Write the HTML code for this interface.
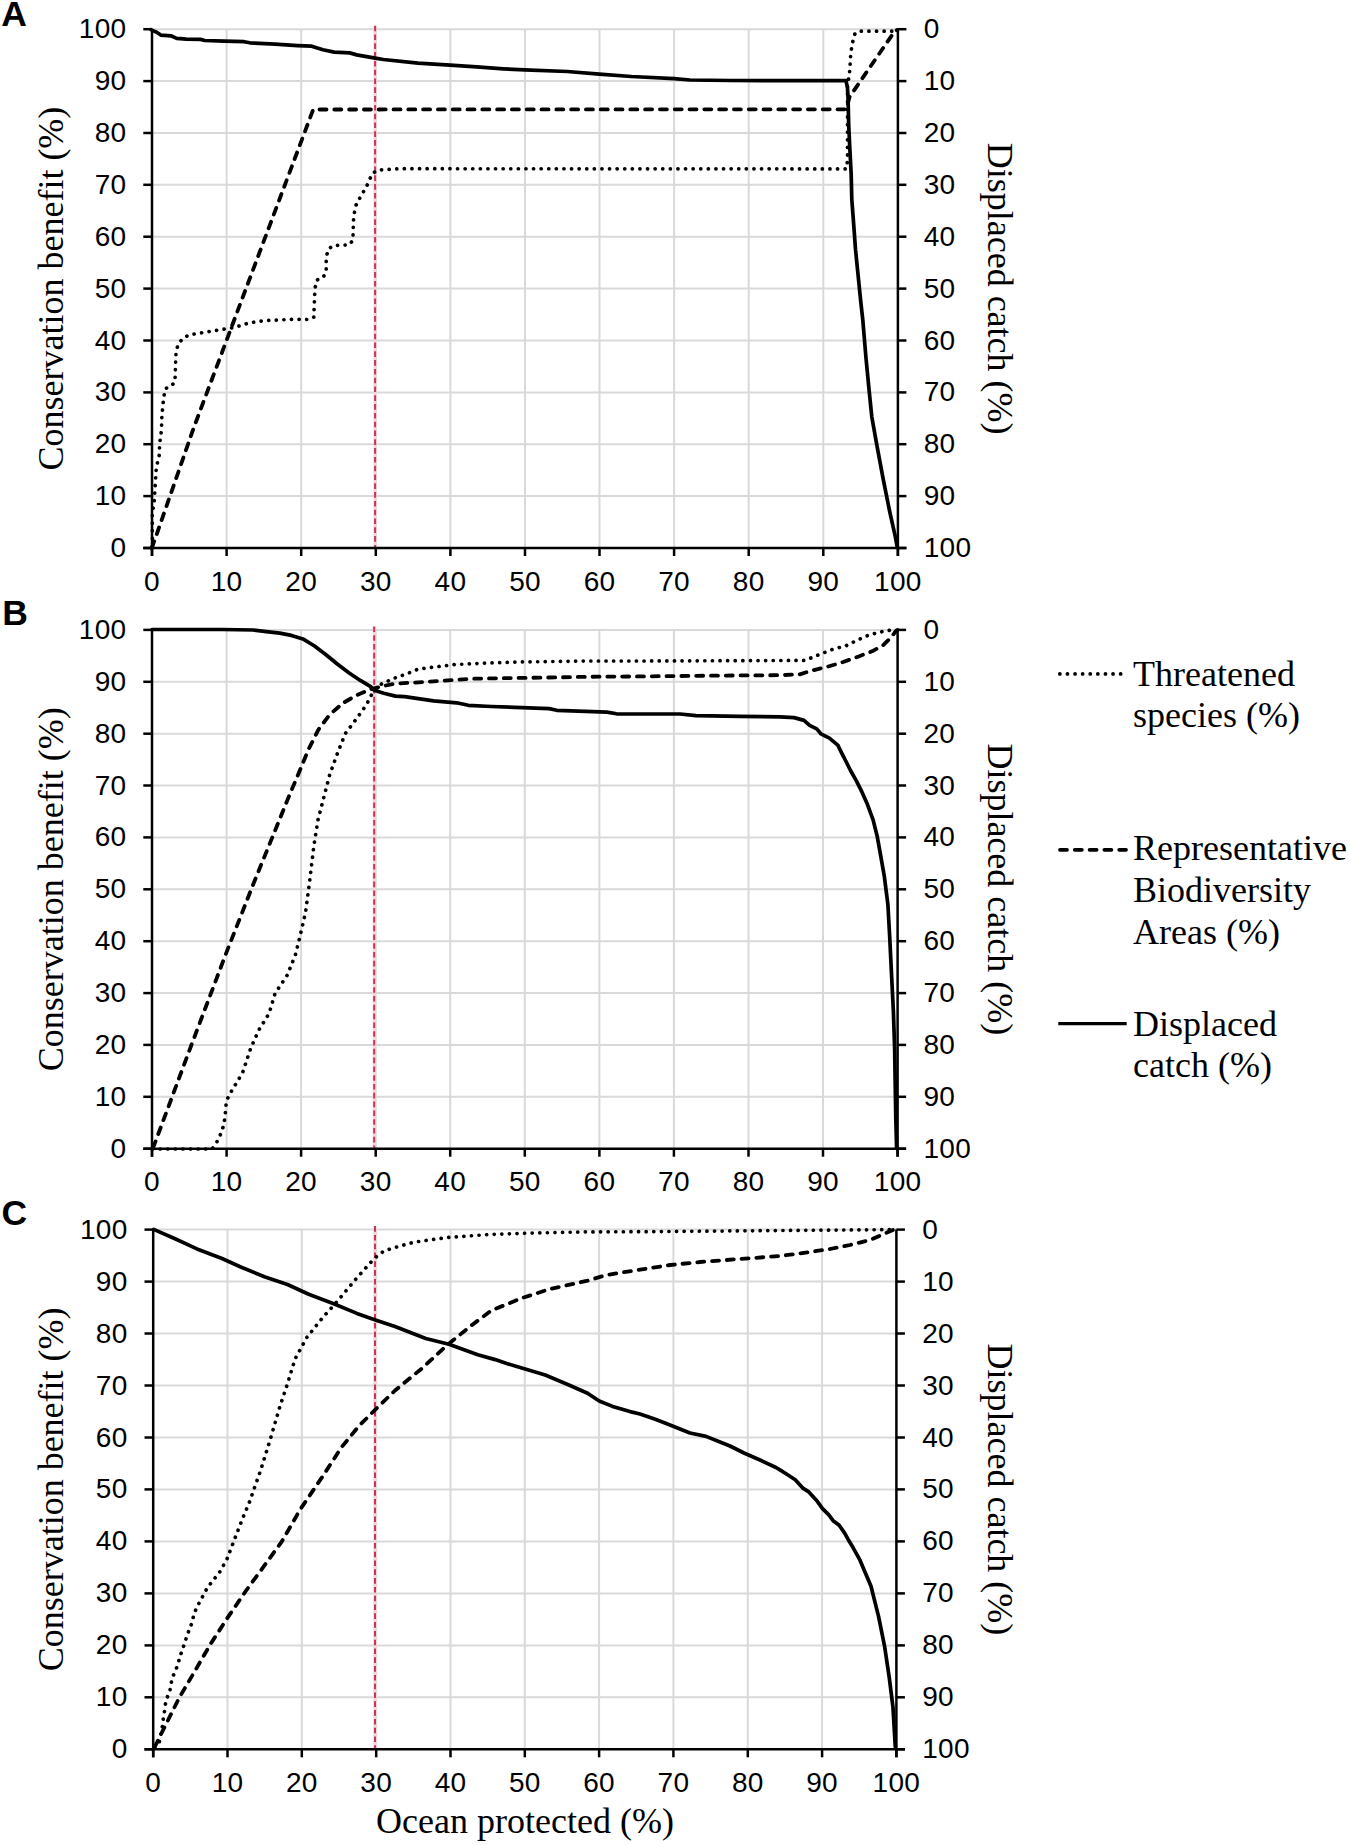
<!DOCTYPE html>
<html><head><meta charset="utf-8"><title>Ocean protection trade-offs</title>
<style>html,body{margin:0;padding:0;background:#fff;}svg{display:block;}</style>
</head><body>
<svg width="1350" height="1845" viewBox="0 0 1350 1845">
<rect width="1350" height="1845" fill="#fff"/>
<g stroke="#d9d9d9" stroke-width="2"><line x1="226.6" y1="29.2" x2="226.6" y2="548"/><line x1="301.2" y1="29.2" x2="301.2" y2="548"/><line x1="375.8" y1="29.2" x2="375.8" y2="548"/><line x1="450.4" y1="29.2" x2="450.4" y2="548"/><line x1="525" y1="29.2" x2="525" y2="548"/><line x1="599.5" y1="29.2" x2="599.5" y2="548"/><line x1="674.1" y1="29.2" x2="674.1" y2="548"/><line x1="748.7" y1="29.2" x2="748.7" y2="548"/><line x1="823.3" y1="29.2" x2="823.3" y2="548"/><line x1="152" y1="29.2" x2="897.9" y2="29.2"/><line x1="152" y1="81.1" x2="897.9" y2="81.1"/><line x1="152" y1="133" x2="897.9" y2="133"/><line x1="152" y1="184.8" x2="897.9" y2="184.8"/><line x1="152" y1="236.7" x2="897.9" y2="236.7"/><line x1="152" y1="288.6" x2="897.9" y2="288.6"/><line x1="152" y1="340.5" x2="897.9" y2="340.5"/><line x1="152" y1="392.4" x2="897.9" y2="392.4"/><line x1="152" y1="444.2" x2="897.9" y2="444.2"/><line x1="152" y1="496.1" x2="897.9" y2="496.1"/></g>
<line x1="375.1" y1="25.7" x2="375.1" y2="547" stroke="#f7d3da" stroke-width="3.2"/>
<line x1="375.1" y1="25.7" x2="375.1" y2="547" stroke="#c8345a" stroke-width="2" stroke-dasharray="5.6 3.2"/>
<polyline points="152.4,546 152.3,510 153.8,506.7 154.3,499.9 154.8,491.6 155.3,484.3 155.7,476.9 156.2,469.6 157.5,462.3 159.2,455.4 159.5,447.6 160.1,440.3 161.1,433 161.6,425.7 161.8,417.9 162.4,410.5 163.1,403.2 164,395.9 165.5,388.6 170.9,386.1 174.8,382.2 175.3,374.4 175.4,366.7 176.1,351.9 178.3,343.7 183.5,337.8 189.4,334.8 211.7,331.1 230.9,328.1 236.9,326.7 248.7,323 263.5,320.7 293.1,319.3 308.6,319.5 313.8,317.1 314.5,298.3 315.1,287.8 317.1,280 323,277.4 326.2,272.2 326.2,256.6 328.8,248.8 333.4,245.5 349,244.9 352.9,240.3 353.5,220.2 354.8,209.7 356.8,202.6 360.7,196.7 367.2,185 372.4,173.3 378.9,170 399.7,168.7 846.4,168.9 847.5,160 847.5,82.5 849.3,76.6 849.8,68.8 850.3,62 850.7,54.2 851.7,47.3 853.2,39.5 855.1,33.2 861,31.2 896.1,31.2" stroke="#000" stroke-width="3.7" fill="none" stroke-dasharray="0.1 7.5" stroke-linecap="round" stroke-linejoin="round"/>
<polyline points="151.8,548 157.5,532 193.8,427.6 313.2,109.5 846.4,109.3 849.5,97 894.5,31.5 897,30" stroke="#000" stroke-width="3.8" fill="none" stroke-dasharray="7 7.8" stroke-linecap="round" stroke-linejoin="round"/>
<polyline points="151,29.6 155.5,31.8 156.7,32.2 161.1,35.2 170.9,35.8 176.7,38.4 186.4,39.1 200.5,39.4 204.7,40.5 224.4,41.1 244.1,41.7 249.8,42.8 275.1,44.2 297.6,45.6 311.7,46.2 317.3,48.1 323,49.8 334.2,52.1 349.7,52.9 356.7,54.9 365.2,56.3 375.3,58.1 383.3,59.5 418,63.2 450,65.1 476.7,66.9 503.3,68.8 524.7,69.9 567.3,71.5 599.3,74.1 631.3,76.5 674,78.7 690,80 730,80.5 846,80.7 847.5,88 848.1,100 848.7,124.9 849.9,149.8 851.2,174.7 851.8,199.6 853.7,224.5 855.5,249.4 858,274.3 860.5,299.3 862.8,320 866,358.2 869.2,391.3 871.8,416.8 876.8,444.8 883.2,479.2 889.6,511.1 895.3,536.6 897.2,547" stroke="#000" stroke-width="3.7" fill="none" stroke-linejoin="round" stroke-linecap="round"/>
<g stroke="#000" stroke-width="2.5" stroke-linecap="butt"><line x1="152" y1="29.2" x2="152" y2="556"/><line x1="897.9" y1="29.2" x2="897.9" y2="556"/><line x1="143.3" y1="548" x2="906.4" y2="548"/><line x1="143.3" y1="29.2" x2="152" y2="29.2"/><line x1="897.9" y1="29.2" x2="906.4" y2="29.2"/><line x1="143.3" y1="81.1" x2="152" y2="81.1"/><line x1="897.9" y1="81.1" x2="906.4" y2="81.1"/><line x1="143.3" y1="133" x2="152" y2="133"/><line x1="897.9" y1="133" x2="906.4" y2="133"/><line x1="143.3" y1="184.8" x2="152" y2="184.8"/><line x1="897.9" y1="184.8" x2="906.4" y2="184.8"/><line x1="143.3" y1="236.7" x2="152" y2="236.7"/><line x1="897.9" y1="236.7" x2="906.4" y2="236.7"/><line x1="143.3" y1="288.6" x2="152" y2="288.6"/><line x1="897.9" y1="288.6" x2="906.4" y2="288.6"/><line x1="143.3" y1="340.5" x2="152" y2="340.5"/><line x1="897.9" y1="340.5" x2="906.4" y2="340.5"/><line x1="143.3" y1="392.4" x2="152" y2="392.4"/><line x1="897.9" y1="392.4" x2="906.4" y2="392.4"/><line x1="143.3" y1="444.2" x2="152" y2="444.2"/><line x1="897.9" y1="444.2" x2="906.4" y2="444.2"/><line x1="143.3" y1="496.1" x2="152" y2="496.1"/><line x1="897.9" y1="496.1" x2="906.4" y2="496.1"/><line x1="143.3" y1="548" x2="152" y2="548"/><line x1="897.9" y1="548" x2="906.4" y2="548"/><line x1="152" y1="548" x2="152" y2="556"/><line x1="226.6" y1="548" x2="226.6" y2="556"/><line x1="301.2" y1="548" x2="301.2" y2="556"/><line x1="375.8" y1="548" x2="375.8" y2="556"/><line x1="450.4" y1="548" x2="450.4" y2="556"/><line x1="525" y1="548" x2="525" y2="556"/><line x1="599.5" y1="548" x2="599.5" y2="556"/><line x1="674.1" y1="548" x2="674.1" y2="556"/><line x1="748.7" y1="548" x2="748.7" y2="556"/><line x1="823.3" y1="548" x2="823.3" y2="556"/><line x1="897.9" y1="548" x2="897.9" y2="556"/></g>
<g font-family='"Liberation Sans", sans-serif' font-size="28" letter-spacing="0.3" fill="#000"><text x="126.4" y="38.2" text-anchor="end">100</text><text x="923.7" y="38.2" text-anchor="start">0</text><text x="126.4" y="90.1" text-anchor="end">90</text><text x="923.7" y="90.1" text-anchor="start">10</text><text x="126.4" y="142" text-anchor="end">80</text><text x="923.7" y="142" text-anchor="start">20</text><text x="126.4" y="193.8" text-anchor="end">70</text><text x="923.7" y="193.8" text-anchor="start">30</text><text x="126.4" y="245.7" text-anchor="end">60</text><text x="923.7" y="245.7" text-anchor="start">40</text><text x="126.4" y="297.6" text-anchor="end">50</text><text x="923.7" y="297.6" text-anchor="start">50</text><text x="126.4" y="349.5" text-anchor="end">40</text><text x="923.7" y="349.5" text-anchor="start">60</text><text x="126.4" y="401.4" text-anchor="end">30</text><text x="923.7" y="401.4" text-anchor="start">70</text><text x="126.4" y="453.2" text-anchor="end">20</text><text x="923.7" y="453.2" text-anchor="start">80</text><text x="126.4" y="505.1" text-anchor="end">10</text><text x="923.7" y="505.1" text-anchor="start">90</text><text x="126.4" y="557" text-anchor="end">0</text><text x="923.7" y="557" text-anchor="start">100</text><text x="152" y="590.6" text-anchor="middle">0</text><text x="226.6" y="590.6" text-anchor="middle">10</text><text x="301.2" y="590.6" text-anchor="middle">20</text><text x="375.8" y="590.6" text-anchor="middle">30</text><text x="450.4" y="590.6" text-anchor="middle">40</text><text x="525" y="590.6" text-anchor="middle">50</text><text x="599.5" y="590.6" text-anchor="middle">60</text><text x="674.1" y="590.6" text-anchor="middle">70</text><text x="748.7" y="590.6" text-anchor="middle">80</text><text x="823.3" y="590.6" text-anchor="middle">90</text><text x="897.9" y="590.6" text-anchor="middle">100</text></g>
<text transform="translate(62.5,288.6) rotate(-90)" text-anchor="middle" font-family='"Liberation Serif", serif' font-size="36">Conservation benefit (%)</text>
<text transform="translate(987.8,288.6) rotate(90)" text-anchor="middle" font-family='"Liberation Serif", serif' font-size="36">Displaced catch (%)</text>
<g stroke="#d9d9d9" stroke-width="2"><line x1="226.6" y1="629.9" x2="226.6" y2="1148.7"/><line x1="301.1" y1="629.9" x2="301.1" y2="1148.7"/><line x1="375.7" y1="629.9" x2="375.7" y2="1148.7"/><line x1="450.2" y1="629.9" x2="450.2" y2="1148.7"/><line x1="524.8" y1="629.9" x2="524.8" y2="1148.7"/><line x1="599.4" y1="629.9" x2="599.4" y2="1148.7"/><line x1="673.9" y1="629.9" x2="673.9" y2="1148.7"/><line x1="748.5" y1="629.9" x2="748.5" y2="1148.7"/><line x1="823" y1="629.9" x2="823" y2="1148.7"/><line x1="152" y1="629.9" x2="897.6" y2="629.9"/><line x1="152" y1="681.8" x2="897.6" y2="681.8"/><line x1="152" y1="733.7" x2="897.6" y2="733.7"/><line x1="152" y1="785.5" x2="897.6" y2="785.5"/><line x1="152" y1="837.4" x2="897.6" y2="837.4"/><line x1="152" y1="889.3" x2="897.6" y2="889.3"/><line x1="152" y1="941.2" x2="897.6" y2="941.2"/><line x1="152" y1="993.1" x2="897.6" y2="993.1"/><line x1="152" y1="1044.9" x2="897.6" y2="1044.9"/><line x1="152" y1="1096.8" x2="897.6" y2="1096.8"/></g>
<line x1="374.2" y1="626.4" x2="374.2" y2="1147.7" stroke="#f7d3da" stroke-width="3.2"/>
<line x1="374.2" y1="626.4" x2="374.2" y2="1147.7" stroke="#c8345a" stroke-width="2" stroke-dasharray="5.6 3.2"/>
<polyline points="152.5,1149 212,1149 215.7,1144.1 219.1,1137.8 221.7,1131.5 223.9,1124.4 225.2,1115 226.3,1101.1 230.4,1093 242.6,1072.7 250.7,1048.3 258.8,1030 269,1013.7 275.1,993.4 287.3,975.1 295.4,954.8 299.5,938.5 305.6,912.1 309.6,881.6 313.7,847.1 317.8,820.7 324.1,796.2 329.9,774.1 337.6,752.9 345.3,733.6 356.9,718.2 366.5,704.7 372.3,693.2 381.9,683.6 395.4,677.8 406.6,673.9 418.1,669.1 433.5,667.2 452.8,664.7 481.7,663.3 520.2,662 587.6,661 640,661 805,660.4 818.2,655 832.2,649.5 846.2,645.7 857.1,640.2 869.5,634.8 882,631.7 894,629.5" stroke="#000" stroke-width="3.7" fill="none" stroke-dasharray="0.1 7.5" stroke-linecap="round" stroke-linejoin="round"/>
<polyline points="153.1,1147.9 191.7,1044.2 226.3,952.8 252.7,885.7 287.4,800.1 299.1,772.2 308.7,749 318.3,729.8 329.9,714.4 343.4,702.8 356.9,695.1 370.3,689.3 385.8,685.5 395,683.6 414.3,682.6 443.2,680.7 472,678.7 529.8,677.8 587.6,676.8 640,676.4 720,675.6 780,675.2 799.5,674.4 812,670.5 827.5,666.7 843.1,662 858.6,656.5 872.6,651.1 883.5,644.9 891.3,637.1 896,630.9 897.5,630" stroke="#000" stroke-width="3.8" fill="none" stroke-dasharray="7 7.8" stroke-linecap="round" stroke-linejoin="round"/>
<polyline points="152,629.5 222,629.5 252.9,630 268.3,631.9 279.8,633.1 291.4,635.4 302.9,638.9 314.5,646 326,654.7 337.6,664.3 349.2,673 360.7,680.7 370.3,686.4 374.2,690.3 383.8,693.2 395.4,696.1 404.6,696.7 433.5,700.9 456.6,702.8 468.2,705.3 491.3,706.5 549.1,708.6 556.8,710.3 606.9,712.1 616.5,713.8 655,714 680,714 696,715.6 740,716.4 780,716.9 794.1,717.6 804,720.4 809.6,725.4 816.7,728.9 820.9,733.8 829.4,738.1 837.8,745.1 842,753.6 846.3,762 850.5,770.5 856.1,780.4 861.8,791.7 867.4,804.3 873.1,819.9 877.3,836.8 880.1,852.3 884.3,876.3 887.9,904.5 889.6,935 891.6,975.8 893.4,1011.6 894.6,1047.4 895.2,1083.2 895.8,1119 896.6,1148" stroke="#000" stroke-width="3.7" fill="none" stroke-linejoin="round" stroke-linecap="round"/>
<g stroke="#000" stroke-width="2.5" stroke-linecap="butt"><line x1="152" y1="629.9" x2="152" y2="1156.7"/><line x1="897.6" y1="629.9" x2="897.6" y2="1156.7"/><line x1="143.3" y1="1148.7" x2="906.1" y2="1148.7"/><line x1="143.3" y1="629.9" x2="152" y2="629.9"/><line x1="897.6" y1="629.9" x2="906.1" y2="629.9"/><line x1="143.3" y1="681.8" x2="152" y2="681.8"/><line x1="897.6" y1="681.8" x2="906.1" y2="681.8"/><line x1="143.3" y1="733.7" x2="152" y2="733.7"/><line x1="897.6" y1="733.7" x2="906.1" y2="733.7"/><line x1="143.3" y1="785.5" x2="152" y2="785.5"/><line x1="897.6" y1="785.5" x2="906.1" y2="785.5"/><line x1="143.3" y1="837.4" x2="152" y2="837.4"/><line x1="897.6" y1="837.4" x2="906.1" y2="837.4"/><line x1="143.3" y1="889.3" x2="152" y2="889.3"/><line x1="897.6" y1="889.3" x2="906.1" y2="889.3"/><line x1="143.3" y1="941.2" x2="152" y2="941.2"/><line x1="897.6" y1="941.2" x2="906.1" y2="941.2"/><line x1="143.3" y1="993.1" x2="152" y2="993.1"/><line x1="897.6" y1="993.1" x2="906.1" y2="993.1"/><line x1="143.3" y1="1044.9" x2="152" y2="1044.9"/><line x1="897.6" y1="1044.9" x2="906.1" y2="1044.9"/><line x1="143.3" y1="1096.8" x2="152" y2="1096.8"/><line x1="897.6" y1="1096.8" x2="906.1" y2="1096.8"/><line x1="143.3" y1="1148.7" x2="152" y2="1148.7"/><line x1="897.6" y1="1148.7" x2="906.1" y2="1148.7"/><line x1="152" y1="1148.7" x2="152" y2="1156.7"/><line x1="226.6" y1="1148.7" x2="226.6" y2="1156.7"/><line x1="301.1" y1="1148.7" x2="301.1" y2="1156.7"/><line x1="375.7" y1="1148.7" x2="375.7" y2="1156.7"/><line x1="450.2" y1="1148.7" x2="450.2" y2="1156.7"/><line x1="524.8" y1="1148.7" x2="524.8" y2="1156.7"/><line x1="599.4" y1="1148.7" x2="599.4" y2="1156.7"/><line x1="673.9" y1="1148.7" x2="673.9" y2="1156.7"/><line x1="748.5" y1="1148.7" x2="748.5" y2="1156.7"/><line x1="823" y1="1148.7" x2="823" y2="1156.7"/><line x1="897.6" y1="1148.7" x2="897.6" y2="1156.7"/></g>
<g font-family='"Liberation Sans", sans-serif' font-size="28" letter-spacing="0.3" fill="#000"><text x="126.4" y="638.9" text-anchor="end">100</text><text x="923.4" y="638.9" text-anchor="start">0</text><text x="126.4" y="690.8" text-anchor="end">90</text><text x="923.4" y="690.8" text-anchor="start">10</text><text x="126.4" y="742.7" text-anchor="end">80</text><text x="923.4" y="742.7" text-anchor="start">20</text><text x="126.4" y="794.5" text-anchor="end">70</text><text x="923.4" y="794.5" text-anchor="start">30</text><text x="126.4" y="846.4" text-anchor="end">60</text><text x="923.4" y="846.4" text-anchor="start">40</text><text x="126.4" y="898.3" text-anchor="end">50</text><text x="923.4" y="898.3" text-anchor="start">50</text><text x="126.4" y="950.2" text-anchor="end">40</text><text x="923.4" y="950.2" text-anchor="start">60</text><text x="126.4" y="1002.1" text-anchor="end">30</text><text x="923.4" y="1002.1" text-anchor="start">70</text><text x="126.4" y="1053.9" text-anchor="end">20</text><text x="923.4" y="1053.9" text-anchor="start">80</text><text x="126.4" y="1105.8" text-anchor="end">10</text><text x="923.4" y="1105.8" text-anchor="start">90</text><text x="126.4" y="1157.7" text-anchor="end">0</text><text x="923.4" y="1157.7" text-anchor="start">100</text><text x="152" y="1191.3" text-anchor="middle">0</text><text x="226.6" y="1191.3" text-anchor="middle">10</text><text x="301.1" y="1191.3" text-anchor="middle">20</text><text x="375.7" y="1191.3" text-anchor="middle">30</text><text x="450.2" y="1191.3" text-anchor="middle">40</text><text x="524.8" y="1191.3" text-anchor="middle">50</text><text x="599.4" y="1191.3" text-anchor="middle">60</text><text x="673.9" y="1191.3" text-anchor="middle">70</text><text x="748.5" y="1191.3" text-anchor="middle">80</text><text x="823" y="1191.3" text-anchor="middle">90</text><text x="897.6" y="1191.3" text-anchor="middle">100</text></g>
<text transform="translate(62.5,889.3) rotate(-90)" text-anchor="middle" font-family='"Liberation Serif", serif' font-size="36">Conservation benefit (%)</text>
<text transform="translate(987.8,889.3) rotate(90)" text-anchor="middle" font-family='"Liberation Serif", serif' font-size="36">Displaced catch (%)</text>
<g stroke="#d9d9d9" stroke-width="2"><line x1="227.5" y1="1229.6" x2="227.5" y2="1749.3"/><line x1="301.8" y1="1229.6" x2="301.8" y2="1749.3"/><line x1="376.2" y1="1229.6" x2="376.2" y2="1749.3"/><line x1="450.5" y1="1229.6" x2="450.5" y2="1749.3"/><line x1="524.8" y1="1229.6" x2="524.8" y2="1749.3"/><line x1="599.1" y1="1229.6" x2="599.1" y2="1749.3"/><line x1="673.4" y1="1229.6" x2="673.4" y2="1749.3"/><line x1="747.8" y1="1229.6" x2="747.8" y2="1749.3"/><line x1="822.1" y1="1229.6" x2="822.1" y2="1749.3"/><line x1="153.2" y1="1229.6" x2="896.4" y2="1229.6"/><line x1="153.2" y1="1281.6" x2="896.4" y2="1281.6"/><line x1="153.2" y1="1333.5" x2="896.4" y2="1333.5"/><line x1="153.2" y1="1385.5" x2="896.4" y2="1385.5"/><line x1="153.2" y1="1437.5" x2="896.4" y2="1437.5"/><line x1="153.2" y1="1489.4" x2="896.4" y2="1489.4"/><line x1="153.2" y1="1541.4" x2="896.4" y2="1541.4"/><line x1="153.2" y1="1593.4" x2="896.4" y2="1593.4"/><line x1="153.2" y1="1645.4" x2="896.4" y2="1645.4"/><line x1="153.2" y1="1697.3" x2="896.4" y2="1697.3"/></g>
<line x1="375" y1="1226.1" x2="375" y2="1748.3" stroke="#f7d3da" stroke-width="3.2"/>
<line x1="375" y1="1226.1" x2="375" y2="1748.3" stroke="#c8345a" stroke-width="2" stroke-dasharray="5.6 3.2"/>
<polyline points="154.7,1747.5 159.3,1742 162.2,1727.3 163.1,1719.7 164.3,1712.6 165.2,1705 167,1697.9 169.8,1691.2 171,1684 172.7,1676.9 175.7,1670.2 178.2,1663.4 179.9,1656.7 182.4,1649.6 184.9,1642.4 187,1635.7 189.5,1629 192.1,1622.7 193.7,1615.1 196.3,1608.4 199.6,1602.1 207.6,1587.3 219.5,1572.4 227,1559 234.4,1539.6 241.9,1520.2 249.3,1502.4 260.6,1470.4 270.2,1439.6 279.8,1406.8 287.5,1383.7 295.2,1358.7 306.8,1337.5 322.2,1318.2 337.6,1300.9 356.9,1277.8 374.2,1258.5 383.8,1251 395,1247.5 414.3,1242.1 448.9,1237.3 491.3,1234.4 529.8,1233.1 587.6,1231.9 655,1231.6 892,1229.6" stroke="#000" stroke-width="3.7" fill="none" stroke-dasharray="0.1 7.5" stroke-linecap="round" stroke-linejoin="round"/>
<polyline points="154.7,1747 165.9,1724.4 179.3,1697.6 194.2,1672.3 210.6,1643.9 227,1618.6 246.3,1590.3 262.7,1567.9 282.1,1541.1 300,1509.8 322.2,1477 341.5,1447.3 358.8,1426.1 376.1,1408.8 395,1390.5 422,1368.3 447,1345.2 472,1325 491.3,1310.5 522.1,1298 549.1,1289.3 587.6,1280.7 606.9,1274.9 640,1269.6 670,1265 700,1262 740,1259 780,1256 810,1252 830,1249 850,1245 870,1240 880,1235.6 894,1229.6" stroke="#000" stroke-width="3.8" fill="none" stroke-dasharray="7 7.8" stroke-linecap="round" stroke-linejoin="round"/>
<polyline points="153.7,1229.4 173.9,1238.3 197,1248.9 222,1258.5 241.3,1267.2 264.4,1276.8 287.5,1284.5 308.7,1294.2 333.7,1303.8 356.9,1313.4 376.1,1320.2 395,1326.5 425.8,1338.5 448.9,1344.2 477.8,1354.8 495.2,1359.6 506.7,1363.5 526,1369.3 545.2,1375 568.3,1384.7 587.6,1393.3 599.2,1401 612.6,1406.4 630,1411.6 640,1414 656,1419.5 670,1425 690,1433 706,1436.4 720,1442 730,1446 744,1453 760,1460 776,1467.5 780,1469.9 787.6,1474.8 795.2,1479.7 802.8,1488.1 808.8,1491.9 816.4,1500.2 822.5,1508.6 828.6,1514.6 833.1,1520.7 839.2,1525.3 844.5,1532.9 848.3,1539.7 852.9,1547.3 860,1560.2 871,1586.2 878.6,1616.6 884.7,1646.9 889.2,1677.3 893,1707.6 895.3,1747.1" stroke="#000" stroke-width="3.7" fill="none" stroke-linejoin="round" stroke-linecap="round"/>
<g stroke="#000" stroke-width="2.5" stroke-linecap="butt"><line x1="153.2" y1="1229.6" x2="153.2" y2="1757.3"/><line x1="896.4" y1="1229.6" x2="896.4" y2="1757.3"/><line x1="144.5" y1="1749.3" x2="904.9" y2="1749.3"/><line x1="144.5" y1="1229.6" x2="153.2" y2="1229.6"/><line x1="896.4" y1="1229.6" x2="904.9" y2="1229.6"/><line x1="144.5" y1="1281.6" x2="153.2" y2="1281.6"/><line x1="896.4" y1="1281.6" x2="904.9" y2="1281.6"/><line x1="144.5" y1="1333.5" x2="153.2" y2="1333.5"/><line x1="896.4" y1="1333.5" x2="904.9" y2="1333.5"/><line x1="144.5" y1="1385.5" x2="153.2" y2="1385.5"/><line x1="896.4" y1="1385.5" x2="904.9" y2="1385.5"/><line x1="144.5" y1="1437.5" x2="153.2" y2="1437.5"/><line x1="896.4" y1="1437.5" x2="904.9" y2="1437.5"/><line x1="144.5" y1="1489.4" x2="153.2" y2="1489.4"/><line x1="896.4" y1="1489.4" x2="904.9" y2="1489.4"/><line x1="144.5" y1="1541.4" x2="153.2" y2="1541.4"/><line x1="896.4" y1="1541.4" x2="904.9" y2="1541.4"/><line x1="144.5" y1="1593.4" x2="153.2" y2="1593.4"/><line x1="896.4" y1="1593.4" x2="904.9" y2="1593.4"/><line x1="144.5" y1="1645.4" x2="153.2" y2="1645.4"/><line x1="896.4" y1="1645.4" x2="904.9" y2="1645.4"/><line x1="144.5" y1="1697.3" x2="153.2" y2="1697.3"/><line x1="896.4" y1="1697.3" x2="904.9" y2="1697.3"/><line x1="144.5" y1="1749.3" x2="153.2" y2="1749.3"/><line x1="896.4" y1="1749.3" x2="904.9" y2="1749.3"/><line x1="153.2" y1="1749.3" x2="153.2" y2="1757.3"/><line x1="227.5" y1="1749.3" x2="227.5" y2="1757.3"/><line x1="301.8" y1="1749.3" x2="301.8" y2="1757.3"/><line x1="376.2" y1="1749.3" x2="376.2" y2="1757.3"/><line x1="450.5" y1="1749.3" x2="450.5" y2="1757.3"/><line x1="524.8" y1="1749.3" x2="524.8" y2="1757.3"/><line x1="599.1" y1="1749.3" x2="599.1" y2="1757.3"/><line x1="673.4" y1="1749.3" x2="673.4" y2="1757.3"/><line x1="747.8" y1="1749.3" x2="747.8" y2="1757.3"/><line x1="822.1" y1="1749.3" x2="822.1" y2="1757.3"/><line x1="896.4" y1="1749.3" x2="896.4" y2="1757.3"/></g>
<g font-family='"Liberation Sans", sans-serif' font-size="28" letter-spacing="0.3" fill="#000"><text x="127.6" y="1238.6" text-anchor="end">100</text><text x="922.2" y="1238.6" text-anchor="start">0</text><text x="127.6" y="1290.6" text-anchor="end">90</text><text x="922.2" y="1290.6" text-anchor="start">10</text><text x="127.6" y="1342.5" text-anchor="end">80</text><text x="922.2" y="1342.5" text-anchor="start">20</text><text x="127.6" y="1394.5" text-anchor="end">70</text><text x="922.2" y="1394.5" text-anchor="start">30</text><text x="127.6" y="1446.5" text-anchor="end">60</text><text x="922.2" y="1446.5" text-anchor="start">40</text><text x="127.6" y="1498.4" text-anchor="end">50</text><text x="922.2" y="1498.4" text-anchor="start">50</text><text x="127.6" y="1550.4" text-anchor="end">40</text><text x="922.2" y="1550.4" text-anchor="start">60</text><text x="127.6" y="1602.4" text-anchor="end">30</text><text x="922.2" y="1602.4" text-anchor="start">70</text><text x="127.6" y="1654.4" text-anchor="end">20</text><text x="922.2" y="1654.4" text-anchor="start">80</text><text x="127.6" y="1706.3" text-anchor="end">10</text><text x="922.2" y="1706.3" text-anchor="start">90</text><text x="127.6" y="1758.3" text-anchor="end">0</text><text x="922.2" y="1758.3" text-anchor="start">100</text><text x="153.2" y="1791.9" text-anchor="middle">0</text><text x="227.5" y="1791.9" text-anchor="middle">10</text><text x="301.8" y="1791.9" text-anchor="middle">20</text><text x="376.2" y="1791.9" text-anchor="middle">30</text><text x="450.5" y="1791.9" text-anchor="middle">40</text><text x="524.8" y="1791.9" text-anchor="middle">50</text><text x="599.1" y="1791.9" text-anchor="middle">60</text><text x="673.4" y="1791.9" text-anchor="middle">70</text><text x="747.8" y="1791.9" text-anchor="middle">80</text><text x="822.1" y="1791.9" text-anchor="middle">90</text><text x="896.4" y="1791.9" text-anchor="middle">100</text></g>
<text transform="translate(62.5,1489.4) rotate(-90)" text-anchor="middle" font-family='"Liberation Serif", serif' font-size="36">Conservation benefit (%)</text>
<text transform="translate(987.8,1489.4) rotate(90)" text-anchor="middle" font-family='"Liberation Serif", serif' font-size="36">Displaced catch (%)</text>
<text x="1.2" y="26.4" font-family='"Liberation Sans", sans-serif' font-weight="bold" font-size="35.5">A</text>
<text x="2.2" y="624.8" font-family='"Liberation Sans", sans-serif' font-weight="bold" font-size="35.5">B</text>
<text x="1.6" y="1225.4" font-family='"Liberation Sans", sans-serif' font-weight="bold" font-size="35.5">C</text>
<text x="525" y="1833" text-anchor="middle" font-family='"Liberation Serif", serif' font-size="36">Ocean protected (%)</text>
<line x1="1059.8" y1="673.9" x2="1121" y2="673.9" stroke="#000" stroke-width="3.7" fill="none" stroke-dasharray="0.1 7.5" stroke-linecap="round" stroke-linejoin="round"/>
<line x1="1060" y1="849.8" x2="1126" y2="849.8" stroke="#000" stroke-width="3.8" fill="none" stroke-dasharray="7 7.8" stroke-linecap="round" stroke-linejoin="round"/>
<line x1="1058.3" y1="1023.6" x2="1126.7" y2="1023.6" stroke="#000" stroke-width="3.4"/>
<g font-family='"Liberation Serif", serif' font-size="36" fill="#000"><text x="1133" y="685.8">Threatened</text><text x="1133" y="726.7">species (%)</text><text x="1133" y="860">Representative</text><text x="1133" y="902.2">Biodiversity</text><text x="1133" y="944.4">Areas (%)</text><text x="1133" y="1035.6">Displaced</text><text x="1133" y="1076.6">catch (%)</text></g>
</svg>
</body></html>
